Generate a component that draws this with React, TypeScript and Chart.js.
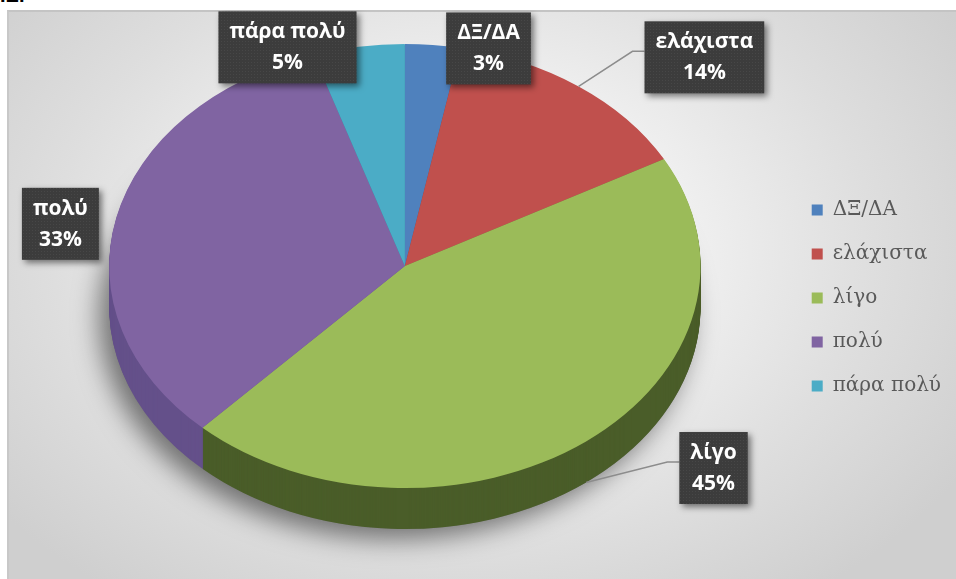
import React, { useEffect, useRef } from 'react';
import { Chart, registerables } from 'chart.js';

Chart.register(...registerables);

// ---- data ----
const categories: string[] = ['ΔΞ/ΔΑ', 'ελάχιστα', 'λίγο', 'πολύ', 'πάρα πολύ'];
const values: number[] = [3, 14, 45, 33, 5];
const percentLabels: string[] = ['3%', '14%', '45%', '33%', '5%'];

// ---- styles ----
const topColors = ['#4f81bd', '#c0504d', '#9bbb59', '#8064a2', '#4bacc6'];
const sideColors = ['#3b6296', '#8e3a38', '#4a5d29', '#64508a', '#36879d'];
// label box centre, relative to pie centre in units of the (projected) radii
const labelOffsets: [number, number][] = [
  [0.283, -0.98],
  [1.013, -0.94],
  [1.044, 0.91],
  [-1.165, -0.19],
  [-0.397, -0.985],
];
const leaderLines = [false, true, true, false, false];

const SX = 297 / 223; // horizontal stretch of the tilted pie
const DEPTH = 41;

function makePattern(ctx: CanvasRenderingContext2D) {
  const c = document.createElement('canvas');
  c.width = 3;
  c.height = 3;
  const p = c.getContext('2d')!;
  p.fillStyle = '#3c3c3c';
  p.fillRect(0, 0, 3, 3);
  p.fillStyle = '#474747';
  p.fillRect(1, 1, 1, 1);
  return ctx.createPattern(c, 'repeat') || '#3c3c3c';
}

const pie3d = {
  id: 'pie3d',
  beforeDatasetsDraw(chart: any) {
    const meta = chart.getDatasetMeta(0);
    const arcs = meta.data;
    const ctx: CanvasRenderingContext2D = chart.ctx;
    if (!arcs.length) return;
    const cx = arcs[0].x;
    const cy = arcs[0].y;
    const r = arcs[0].outerRadius;
    // shadow under the pie
    ctx.save();
    ctx.shadowColor = 'rgba(0,0,0,0.5)';
    ctx.shadowBlur = 26;
    ctx.shadowOffsetX = -10;
    ctx.shadowOffsetY = 10;
    ctx.fillStyle = '#777';
    ctx.beginPath();
    ctx.ellipse(cx, cy + DEPTH, r * SX, r, 0, 0, Math.PI * 2);
    ctx.fill();
    ctx.restore();
    // side walls
    for (let d = DEPTH; d >= 1; d--) {
      ctx.save();
      ctx.translate(cx, cy + d);
      ctx.scale(SX, 1);
      ctx.translate(-cx, -cy);
      arcs.forEach((arc: any, i: number) => {
        const o = arc.options;
        const bg = o.backgroundColor;
        o.backgroundColor = sideColors[i];
        arc.draw(ctx);
        o.backgroundColor = bg;
      });
      ctx.restore();
    }
    // top face transform
    ctx.save();
    ctx.translate(cx, cy);
    ctx.scale(SX, 1);
    ctx.translate(-cx, -cy);
  },
  afterDatasetsDraw(chart: any) {
    const ctx: CanvasRenderingContext2D = chart.ctx;
    ctx.restore();
    const meta = chart.getDatasetMeta(0);
    const arcs = meta.data;
    if (!arcs.length) return;
    const cx = arcs[0].x;
    const cy = arcs[0].y;
    const ry = arcs[0].outerRadius;
    const rx = ry * SX;
    const pattern = makePattern(ctx);
    ctx.save();
    ctx.font = 'bold 21px "Open Sans"';
    arcs.forEach((arc: any, i: number) => {
      const [ox, oy] = labelOffsets[i];
      const bx = cx + ox * rx;
      const by = cy + oy * ry;
      const l1 = categories[i];
      const l2 = percentLabels[i];
      const tw = Math.max(ctx.measureText(l1).width, ctx.measureText(l2).width);
      const w = tw + 22;
      const h = 72;
      const left = bx - w / 2;
      const top = by - h / 2;
      if (leaderLines[i]) {
        const a = (arc.startAngle + arc.endAngle) / 2;
        const sx = cx + Math.cos(a) * rx;
        let sy = cy + Math.sin(a) * ry;
        if (Math.sin(a) > 0.2) sy += DEPTH;
        const ex = left - 12;
        const ey = by - 6;
        ctx.save();
        ctx.strokeStyle = '#8c8c8c';
        ctx.lineWidth = 1.5;
        ctx.beginPath();
        ctx.moveTo(sx, sy);
        ctx.lineTo(ex, ey);
        ctx.lineTo(left, ey);
        ctx.stroke();
        ctx.restore();
      }
      ctx.save();
      ctx.shadowColor = 'rgba(0,0,0,0.5)';
      ctx.shadowBlur = 6;
      ctx.shadowOffsetX = 3;
      ctx.shadowOffsetY = 3;
      ctx.fillStyle = pattern as any;
      ctx.fillRect(left, top, w, h);
      ctx.restore();
      ctx.fillStyle = '#ffffff';
      ctx.textAlign = 'center';
      ctx.textBaseline = 'middle';
      ctx.fillText(l1, bx, by - 15);
      ctx.fillText(l2, bx, by + 16);
    });
    ctx.restore();
  },
};

export default function App() {
  const ref = useRef<HTMLCanvasElement | null>(null);
  useEffect(() => {
    if (!ref.current) return;
    const chart = new Chart(ref.current, {
      type: 'pie',
      data: {
        labels: categories,
        datasets: [
          {
            data: values,
            backgroundColor: topColors,
            borderWidth: 0,
            hoverOffset: 0,
            offset: 0,
          },
        ],
      },
      options: {
        animation: false,
        responsive: true,
        maintainAspectRatio: false,
        layout: { padding: { left: 15, right: 3, top: 34, bottom: 89 } },
        plugins: {
          tooltip: { enabled: false },
          legend: {
            position: 'right',
            align: 'center',
            title: { display: true, text: '', font: { size: 10 }, padding: { top: 0, bottom: 52 } },
            labels: {
              boxWidth: 11,
              boxHeight: 11,
              padding: 24,
              color: '#595959',
              font: { family: '"DejaVu Serif"', size: 20 },
            },
          },
        },
      },
      plugins: [pie3d],
    });
    return () => chart.destroy();
  }, []);
  return (
    <div style={{ position: 'absolute', left: 0, top: 0, width: 956, height: 579, background: '#fff', overflow: 'hidden' }}>
      <div style={{ position: 'absolute', left: 0, top: 0, height: 4, overflow: 'hidden' }}>
        <div style={{ marginTop: -16, font: 'bold 20px "Liberation Sans"', color: '#000' }}>ΙΕ.</div>
      </div>
      <div
        style={{
          position: 'absolute',
          left: 7,
          top: 10,
          width: 949,
          height: 569,
          borderTop: '2px solid #c4c4c4',
          borderLeft: '2px solid #c8c8c8',
          boxSizing: 'border-box',
          background:
            'radial-gradient(ellipse 62% 75% at 48% 42%, #f8f8f8 0%, #efefef 40%, #dedede 70%, #cfcfcf 100%)',
        }}
      >
        <canvas ref={ref} style={{ position: 'absolute', left: -2, top: -2, width: 949, height: 569 }} />
      </div>
    </div>
  );
}
